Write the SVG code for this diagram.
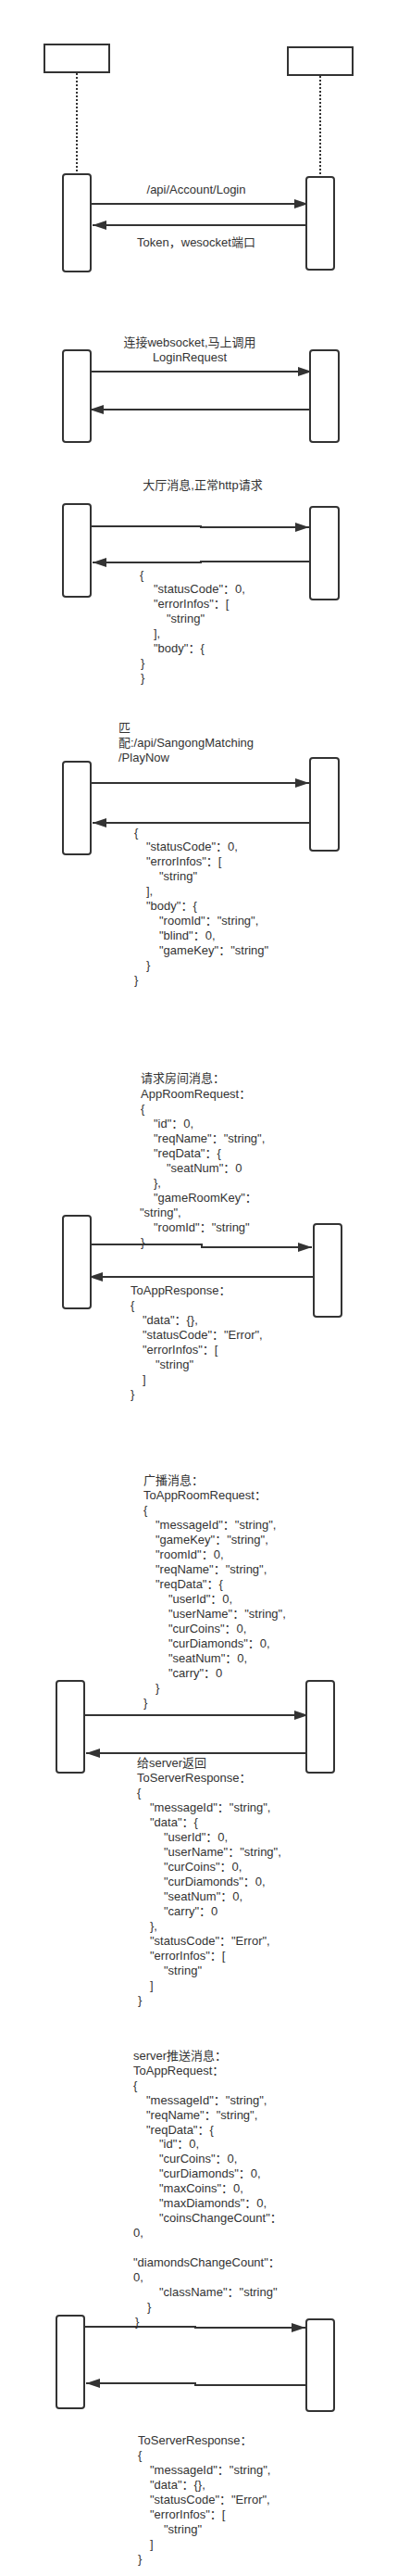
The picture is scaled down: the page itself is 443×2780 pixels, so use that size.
<svg xmlns="http://www.w3.org/2000/svg" width="443" height="2780" viewBox="0 0 443 2780">
<style>
.box{fill:#fff;stroke:#333;stroke-width:2}
.life{stroke:#333;stroke-width:2;stroke-dasharray:2 2;fill:none}
.msg{stroke:#333;stroke-width:2;fill:none;marker-end:url(#ah)}
text{font-family:"Liberation Sans","Noto Sans CJK SC",sans-serif;font-size:13px;fill:#333}
.c{text-anchor:middle}
</style>
<defs>
<marker id="ah" markerUnits="userSpaceOnUse" markerWidth="16" markerHeight="11" refX="15" refY="5" orient="auto">
<path d="M0,0 L15,5 L0,10 z" fill="#333"/>
</marker>
</defs>
<rect width="443" height="2780" fill="#fff"/>

<g id="headL"><rect class="box" x="48" y="48" width="70" height="30"/></g>
<g id="headR"><rect class="box" x="311" y="51" width="70" height="30"/></g>

<g id="connectors">
<line class="life" x1="83" y1="79" x2="83" y2="187"/>
<line class="life" x1="346" y1="82" x2="346" y2="190"/>
<path class="msg" d="M98,220 H333"/>
<path class="msg" d="M331,243 H100"/>
<path class="msg" d="M98,401 H337"/>
<path class="msg" d="M335,442 H97"/>
<path class="msg" d="M98,568 H217 V569 H334"/>
<path class="msg" d="M335,606 H217 V607 H100"/>
<path class="msg" d="M98,845 H334"/>
<path class="msg" d="M335,888 H100"/>
<path class="msg" d="M98,1343 H218 V1346 H337"/>
<path class="msg" d="M339,1378 H96"/>
<path class="msg" d="M91,1851 H333"/>
<path class="msg" d="M331,1892 H93"/>
<path class="msg" d="M91,2511 H211 V2512 H330"/>
<path class="msg" d="M331,2574 H211 V2572 H93"/>
</g>

<g id="act1L"><rect class="box" x="68" y="188" width="30" height="105" rx="3"/></g>
<g id="act1R"><rect class="box" x="331" y="191" width="30" height="100" rx="3"/></g>
<g id="act2L"><rect class="box" x="68" y="378" width="30" height="99" rx="3"/></g>
<g id="act2R"><rect class="box" x="335" y="378" width="31" height="99" rx="3"/></g>
<g id="act3L"><rect class="box" x="68" y="544" width="30" height="100" rx="3"/></g>
<g id="act3R"><rect class="box" x="335" y="547" width="31" height="100" rx="3"/></g>
<g id="act4L"><rect class="box" x="68" y="822" width="30" height="100" rx="3"/></g>
<g id="act4R"><rect class="box" x="335" y="818" width="31" height="100" rx="3"/></g>
<g id="act5L"><rect class="box" x="68" y="1312" width="30" height="100" rx="3"/></g>
<g id="act5R"><rect class="box" x="339" y="1321" width="30" height="100" rx="3"/></g>
<g id="act6L"><rect class="box" x="61" y="1814" width="30" height="99" rx="3"/></g>
<g id="act6R"><rect class="box" x="331" y="1814" width="30" height="99" rx="3"/></g>
<g id="act7L"><rect class="box" x="61" y="2499" width="30" height="100" rx="3"/></g>
<g id="act7R"><rect class="box" x="331" y="2503" width="30" height="99" rx="3"/></g>

<g id="label1">
<text x="212" y="209" class="c">/api/Account/Login</text>
<text x="212" y="266" class="c">Token，wesocket端口</text>
</g>
<g id="label2">
<text x="205" y="374" class="c">连接websocket,马上调用</text>
<text x="205" y="390" class="c">LoginRequest</text>
</g>
<g id="label3">
<text x="219" y="528" class="c">大厅消息,正常http请求</text>
<text x="151" y="625">{</text>
<text x="166" y="640">"statusCode"：0,</text>
<text x="166" y="656">"errorInfos"：[</text>
<text x="180" y="672">"string"</text>
<text x="166" y="688">],</text>
<text x="166" y="704">"body"：{</text>
<text x="152" y="720">}</text>
<text x="152" y="736">}</text>
</g>
<g id="label4">
<text x="128" y="790">匹</text>
<text x="128" y="806">配:/api/SangongMatching</text>
<text x="128" y="822">/PlayNow</text>
<text x="145" y="903">{</text>
<text x="158" y="918">"statusCode"：0,</text>
<text x="158" y="934">"errorInfos"：[</text>
<text x="172" y="950">"string"</text>
<text x="158" y="966">],</text>
<text x="158" y="982">"body"：{</text>
<text x="172" y="998">"roomId"："string",</text>
<text x="172" y="1014">"blind"：0,</text>
<text x="172" y="1030">"gameKey"："string"</text>
<text x="158" y="1046">}</text>
<text x="145" y="1062">}</text>
</g>
<g id="label5">
<text x="152" y="1168">请求房间消息：</text>
<text x="152" y="1185">AppRoomRequest：</text>
<text x="152" y="1201">{</text>
<text x="166" y="1217">"id"：0,</text>
<text x="166" y="1233">"reqName"："string",</text>
<text x="166" y="1249">"reqData"：{</text>
<text x="180" y="1265">"seatNum"：0</text>
<text x="166" y="1281">},</text>
<text x="166" y="1297">"gameRoomKey"：</text>
<text x="151" y="1313">"string",</text>
<text x="166" y="1329">"roomId"："string"</text>
<text x="152" y="1345">}</text>
<text x="141" y="1397">ToAppResponse：</text>
<text x="141" y="1413">{</text>
<text x="154" y="1429">"data"：{},</text>
<text x="154" y="1445">"statusCode"："Error",</text>
<text x="154" y="1461">"errorInfos"：[</text>
<text x="168" y="1477">"string"</text>
<text x="154" y="1493">]</text>
<text x="141" y="1509">}</text>
</g>
<g id="label6">
<text x="155" y="1602">广播消息：</text>
<text x="155" y="1618">ToAppRoomRequest：</text>
<text x="155" y="1634">{</text>
<text x="168" y="1650">"messageId"："string",</text>
<text x="168" y="1666">"gameKey"："string",</text>
<text x="168" y="1682">"roomId"：0,</text>
<text x="168" y="1698">"reqName"："string",</text>
<text x="168" y="1714">"reqData"：{</text>
<text x="182" y="1730">"userId"：0,</text>
<text x="182" y="1746">"userName"："string",</text>
<text x="182" y="1762">"curCoins"：0,</text>
<text x="182" y="1778">"curDiamonds"：0,</text>
<text x="182" y="1794">"seatNum"：0,</text>
<text x="182" y="1810">"carry"：0</text>
<text x="168" y="1826">}</text>
<text x="155" y="1842">}</text>
<text x="148" y="1907">给server返回</text>
<text x="148" y="1923">ToServerResponse：</text>
<text x="148" y="1939">{</text>
<text x="162" y="1955">"messageId"："string",</text>
<text x="162" y="1971">"data"：{</text>
<text x="177" y="1987">"userId"：0,</text>
<text x="177" y="2003">"userName"："string",</text>
<text x="177" y="2019">"curCoins"：0,</text>
<text x="177" y="2035">"curDiamonds"：0,</text>
<text x="177" y="2051">"seatNum"：0,</text>
<text x="177" y="2067">"carry"：0</text>
<text x="162" y="2083">},</text>
<text x="162" y="2099">"statusCode"："Error",</text>
<text x="162" y="2115">"errorInfos"：[</text>
<text x="177" y="2131">"string"</text>
<text x="162" y="2147">]</text>
<text x="149" y="2163">}</text>
</g>
<g id="label7">
<text x="144" y="2223">server推送消息：</text>
<text x="144" y="2239">ToAppRequest：</text>
<text x="144" y="2255">{</text>
<text x="158" y="2271">"messageId"："string",</text>
<text x="158" y="2287">"reqName"："string",</text>
<text x="158" y="2303">"reqData"：{</text>
<text x="172" y="2318">"id"：0,</text>
<text x="172" y="2334">"curCoins"：0,</text>
<text x="172" y="2350">"curDiamonds"：0,</text>
<text x="172" y="2366">"maxCoins"：0,</text>
<text x="172" y="2382">"maxDiamonds"：0,</text>
<text x="172" y="2398">"coinsChangeCount"：</text>
<text x="144" y="2414">0,</text>
<text x="144" y="2446">"diamondsChangeCount"：</text>
<text x="144" y="2462">0,</text>
<text x="172" y="2478">"className"："string"</text>
<text x="159" y="2494">}</text>
<text x="146" y="2510">}</text>
<text x="149" y="2638">ToServerResponse：</text>
<text x="149" y="2654">{</text>
<text x="162" y="2670">"messageId"："string",</text>
<text x="162" y="2686">"data"：{},</text>
<text x="162" y="2702">"statusCode"："Error",</text>
<text x="162" y="2718">"errorInfos"：[</text>
<text x="177" y="2734">"string"</text>
<text x="162" y="2750">]</text>
<text x="149" y="2766">}</text>
</g>
</svg>
